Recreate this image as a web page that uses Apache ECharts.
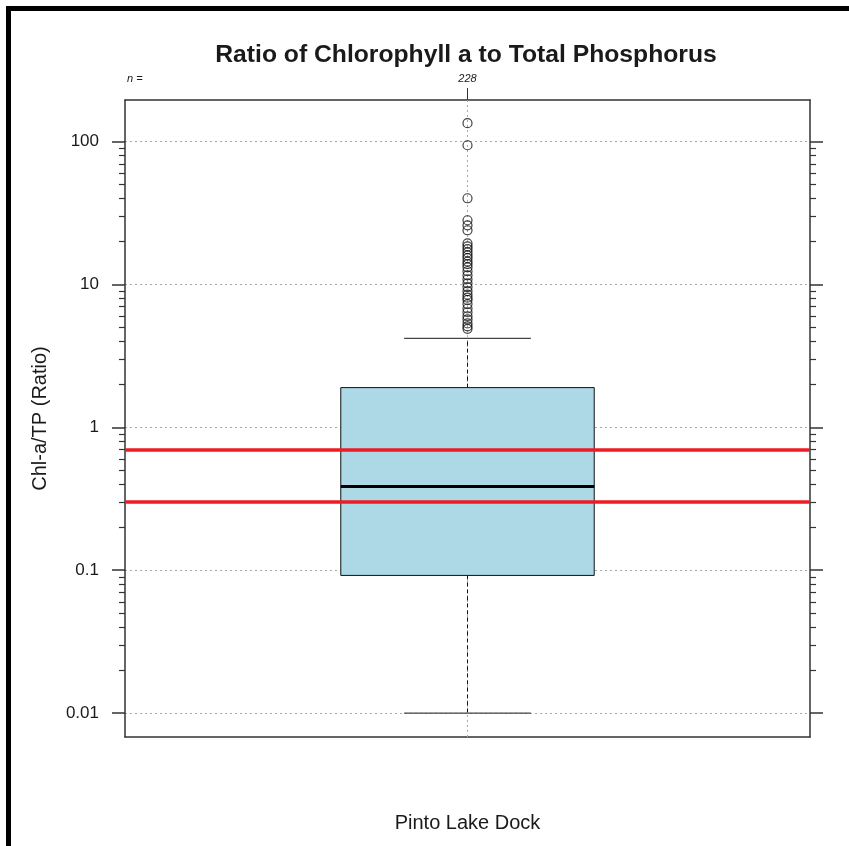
<!DOCTYPE html>
<html>
<head>
<meta charset="utf-8">
<script src="https://cdn.jsdelivr.net/npm/echarts@6/dist/echarts.min.js"></script>
<style>
html, body { margin: 0; padding: 0; background: #ffffff; }
#chart { width: 849px; height: 846px; }
</style>
</head>
<body>
<div id="chart"></div>
<script>
// ---------------- data ----------------
const categories = ['Pinto Lake Dock'];
const sampleSizes = [228];
// lower whisker, Q1, median, Q3, upper whisker
const boxStats = [[0.01, 0.092, 0.386, 1.9, 4.2]];
// outlying points
const outliers = [135, 94.5, 40.2, 28.2, 26.0, 24.0, 19.4, 18.5, 17.7, 16.8, 16.0, 15.3,
  14.5, 13.9, 13.2, 12.4, 11.6, 10.9, 10.2, 9.6, 9.0, 8.5, 8.1, 7.8, 7.3, 6.8, 6.4,
  6.0, 5.7, 5.35, 5.1, 4.9];
// red reference lines
const referenceLines = [0.7, 0.3];
// axis ticks
const majorTicks = [0.01, 0.1, 1, 10, 100];
const majorTickLabels = ['0.01', '0.1', '1', '10', '100'];
const minorTicks = [0.02, 0.03, 0.04, 0.05, 0.06, 0.07, 0.08, 0.09,
  0.2, 0.3, 0.4, 0.5, 0.6, 0.7, 0.8, 0.9,
  2, 3, 4, 5, 6, 7, 8, 9,
  20, 30, 40, 50, 60, 70, 80, 90];
const yRange = [0.0068, 196];

const titleText = 'Ratio of Chlorophyll a to Total Phosphorus';
const yTitle = 'Chl-a/TP (Ratio)';

// ---------------- chart ----------------
const FONT = '"Liberation Sans", Arial, sans-serif';
const AXIS_COLOR = '#333333';
const TEXT_COLOR = '#1a1a1a';

function labelFor(v) {
  for (let i = 0; i < majorTicks.length; i++) {
    if (Math.abs(Math.log10(v) - Math.log10(majorTicks[i])) < 1e-6) return majorTickLabels[i];
  }
  return '';
}

function yAxisBase(extra) {
  return Object.assign({
    type: 'log',
    logBase: 10,
    min: yRange[0],
    max: yRange[1],
    gridIndex: 0,
    axisLine: { show: false },
    axisTick: { show: false },
    axisLabel: { show: false },
    splitLine: { show: false },
    minorTick: { show: false },
    minorSplitLine: { show: false }
  }, extra);
}

const chart = echarts.init(document.getElementById('chart'), null, { renderer: 'canvas' });

const option = {
  animation: false,
  backgroundColor: '#ffffff',
  title: {
    text: titleText,
    left: 461,
    top: 38,
    textAlign: 'center',
    textStyle: { fontFamily: FONT, fontWeight: 'bold', fontSize: 24.7, color: TEXT_COLOR }
  },
  grid: { left: 125, right: 39, top: 100, bottom: 109, containLabel: false },
  xAxis: [
    {
      type: 'category',
      position: 'bottom',
      data: categories,
      boundaryGap: true,
      axisLine: { show: true, onZero: false, lineStyle: { color: AXIS_COLOR, width: 1.5 } },
      axisTick: { show: false },
      axisLabel: { margin: 76, fontFamily: FONT, fontSize: 20, color: TEXT_COLOR },
      splitLine: { show: false }
    },
    {
      type: 'category',
      position: 'top',
      data: categories,
      boundaryGap: true,
      axisLine: { show: true, onZero: false, lineStyle: { color: AXIS_COLOR, width: 1.5 } },
      axisTick: { show: true, alignWithLabel: true, length: 12, lineStyle: { color: AXIS_COLOR, width: 1 } },
      axisLabel: {
        margin: 16,
        fontFamily: FONT, fontSize: 11, fontStyle: 'italic', color: TEXT_COLOR,
        formatter: function (v, i) { return String(sampleSizes[i]); }
      },
      splitLine: { show: false }
    }
  ],
  yAxis: [
    yAxisBase({
      position: 'left',
      name: yTitle,
      nameLocation: 'middle',
      nameGap: 75,
      nameTextStyle: { fontFamily: FONT, fontSize: 20, color: TEXT_COLOR },
      axisLine: { show: true, lineStyle: { color: AXIS_COLOR, width: 1.5 } },
      axisTick: { show: true, length: 13, customValues: majorTicks, lineStyle: { color: AXIS_COLOR, width: 1.5 } },
      axisLabel: {
        show: true, margin: 26, customValues: majorTicks,
        fontFamily: FONT, fontSize: 17, color: TEXT_COLOR,
        formatter: labelFor
      },
      splitLine: { show: true, lineStyle: { color: '#a8a8a8', width: 1, type: [2, 3] } }
    }),
    yAxisBase({
      position: 'left',
      axisTick: { show: true, length: 6, customValues: minorTicks, lineStyle: { color: AXIS_COLOR, width: 1.2 } }
    }),
    yAxisBase({
      position: 'right',
      axisLine: { show: true, lineStyle: { color: AXIS_COLOR, width: 1.5 } },
      axisTick: { show: true, length: 13, customValues: majorTicks, lineStyle: { color: AXIS_COLOR, width: 1.5 } }
    }),
    yAxisBase({
      position: 'right',
      axisTick: { show: true, length: 6, customValues: minorTicks, lineStyle: { color: AXIS_COLOR, width: 1.2 } }
    })
  ],
  graphic: [
    { type: 'rect', left: 6, top: 6, shape: { width: 843, height: 5 }, style: { fill: '#000' }, silent: true },
    { type: 'rect', left: 6, top: 6, shape: { width: 5, height: 840 }, style: { fill: '#000' }, silent: true },
    {
      type: 'text', left: 127, top: 73, silent: true,
      style: { text: 'n =', fontFamily: FONT, fontSize: 11, fontStyle: 'italic', fill: TEXT_COLOR }
    }
  ],
  series: [
    {
      type: 'custom',
      name: 'box',
      xAxisIndex: 0,
      yAxisIndex: 0,
      z: 2,
      silent: true,
      data: boxStats.map(function (s, i) { return [i].concat(s); }),
      encode: { x: 0, y: [1, 2, 3, 4, 5] },
      renderItem: function (params, api) {
        const i = api.value(0);
        const lo = api.coord([i, api.value(1)]);
        const q1 = api.coord([i, api.value(2)]);
        const med = api.coord([i, api.value(3)]);
        const q3 = api.coord([i, api.value(4)]);
        const hi = api.coord([i, api.value(5)]);
        const cs = params.coordSys;
        const cx = lo[0];
        const w = cs.width * 0.37;
        const capHalf = w / 4;
        const dash = { stroke: '#111', lineWidth: 1, lineDash: [4, 3] };
        return {
          type: 'group',
          children: [
            { type: 'line', shape: { x1: cx, y1: cs.y, x2: cx, y2: cs.y + cs.height },
              style: { stroke: '#a8a8a8', lineWidth: 1, lineDash: [2, 3] } },
            { type: 'line', shape: { x1: cx, y1: q3[1], x2: cx, y2: hi[1] }, style: dash },
            { type: 'line', shape: { x1: cx, y1: q1[1], x2: cx, y2: lo[1] }, style: dash },
            { type: 'line', shape: { x1: cx - capHalf, y1: hi[1], x2: cx + capHalf, y2: hi[1] },
              style: { stroke: '#444', lineWidth: 1.3 } },
            { type: 'line', shape: { x1: cx - capHalf, y1: lo[1], x2: cx + capHalf, y2: lo[1] },
              style: { stroke: '#444', lineWidth: 1.3 } },
            { type: 'rect', shape: { x: cx - w / 2, y: q3[1], width: w, height: q1[1] - q3[1] },
              style: { fill: '#ADD8E6', stroke: '#111', lineWidth: 1 } },
            { type: 'line', shape: { x1: cx - w / 2, y1: med[1], x2: cx + w / 2, y2: med[1] },
              style: { stroke: '#000', lineWidth: 3 } }
          ]
        };
      }
    },
    {
      type: 'scatter',
      name: 'outliers',
      xAxisIndex: 0,
      yAxisIndex: 0,
      z: 3,
      silent: true,
      symbol: 'circle',
      symbolSize: 9,
      itemStyle: { color: 'rgba(0,0,0,0)', borderColor: '#111', borderWidth: 1.2 },
      data: outliers.map(function (v) { return [0, v]; }),
      markLine: {
        silent: true,
        symbol: 'none',
        label: { show: false },
        emphasis: { disabled: true },
        lineStyle: { color: '#ED1C24', width: 3.5, type: 'solid' },
        data: referenceLines.map(function (v) { return { yAxis: v }; })
      }
    }
  ]
};

chart.setOption(option);
</script>
</body>
</html>
